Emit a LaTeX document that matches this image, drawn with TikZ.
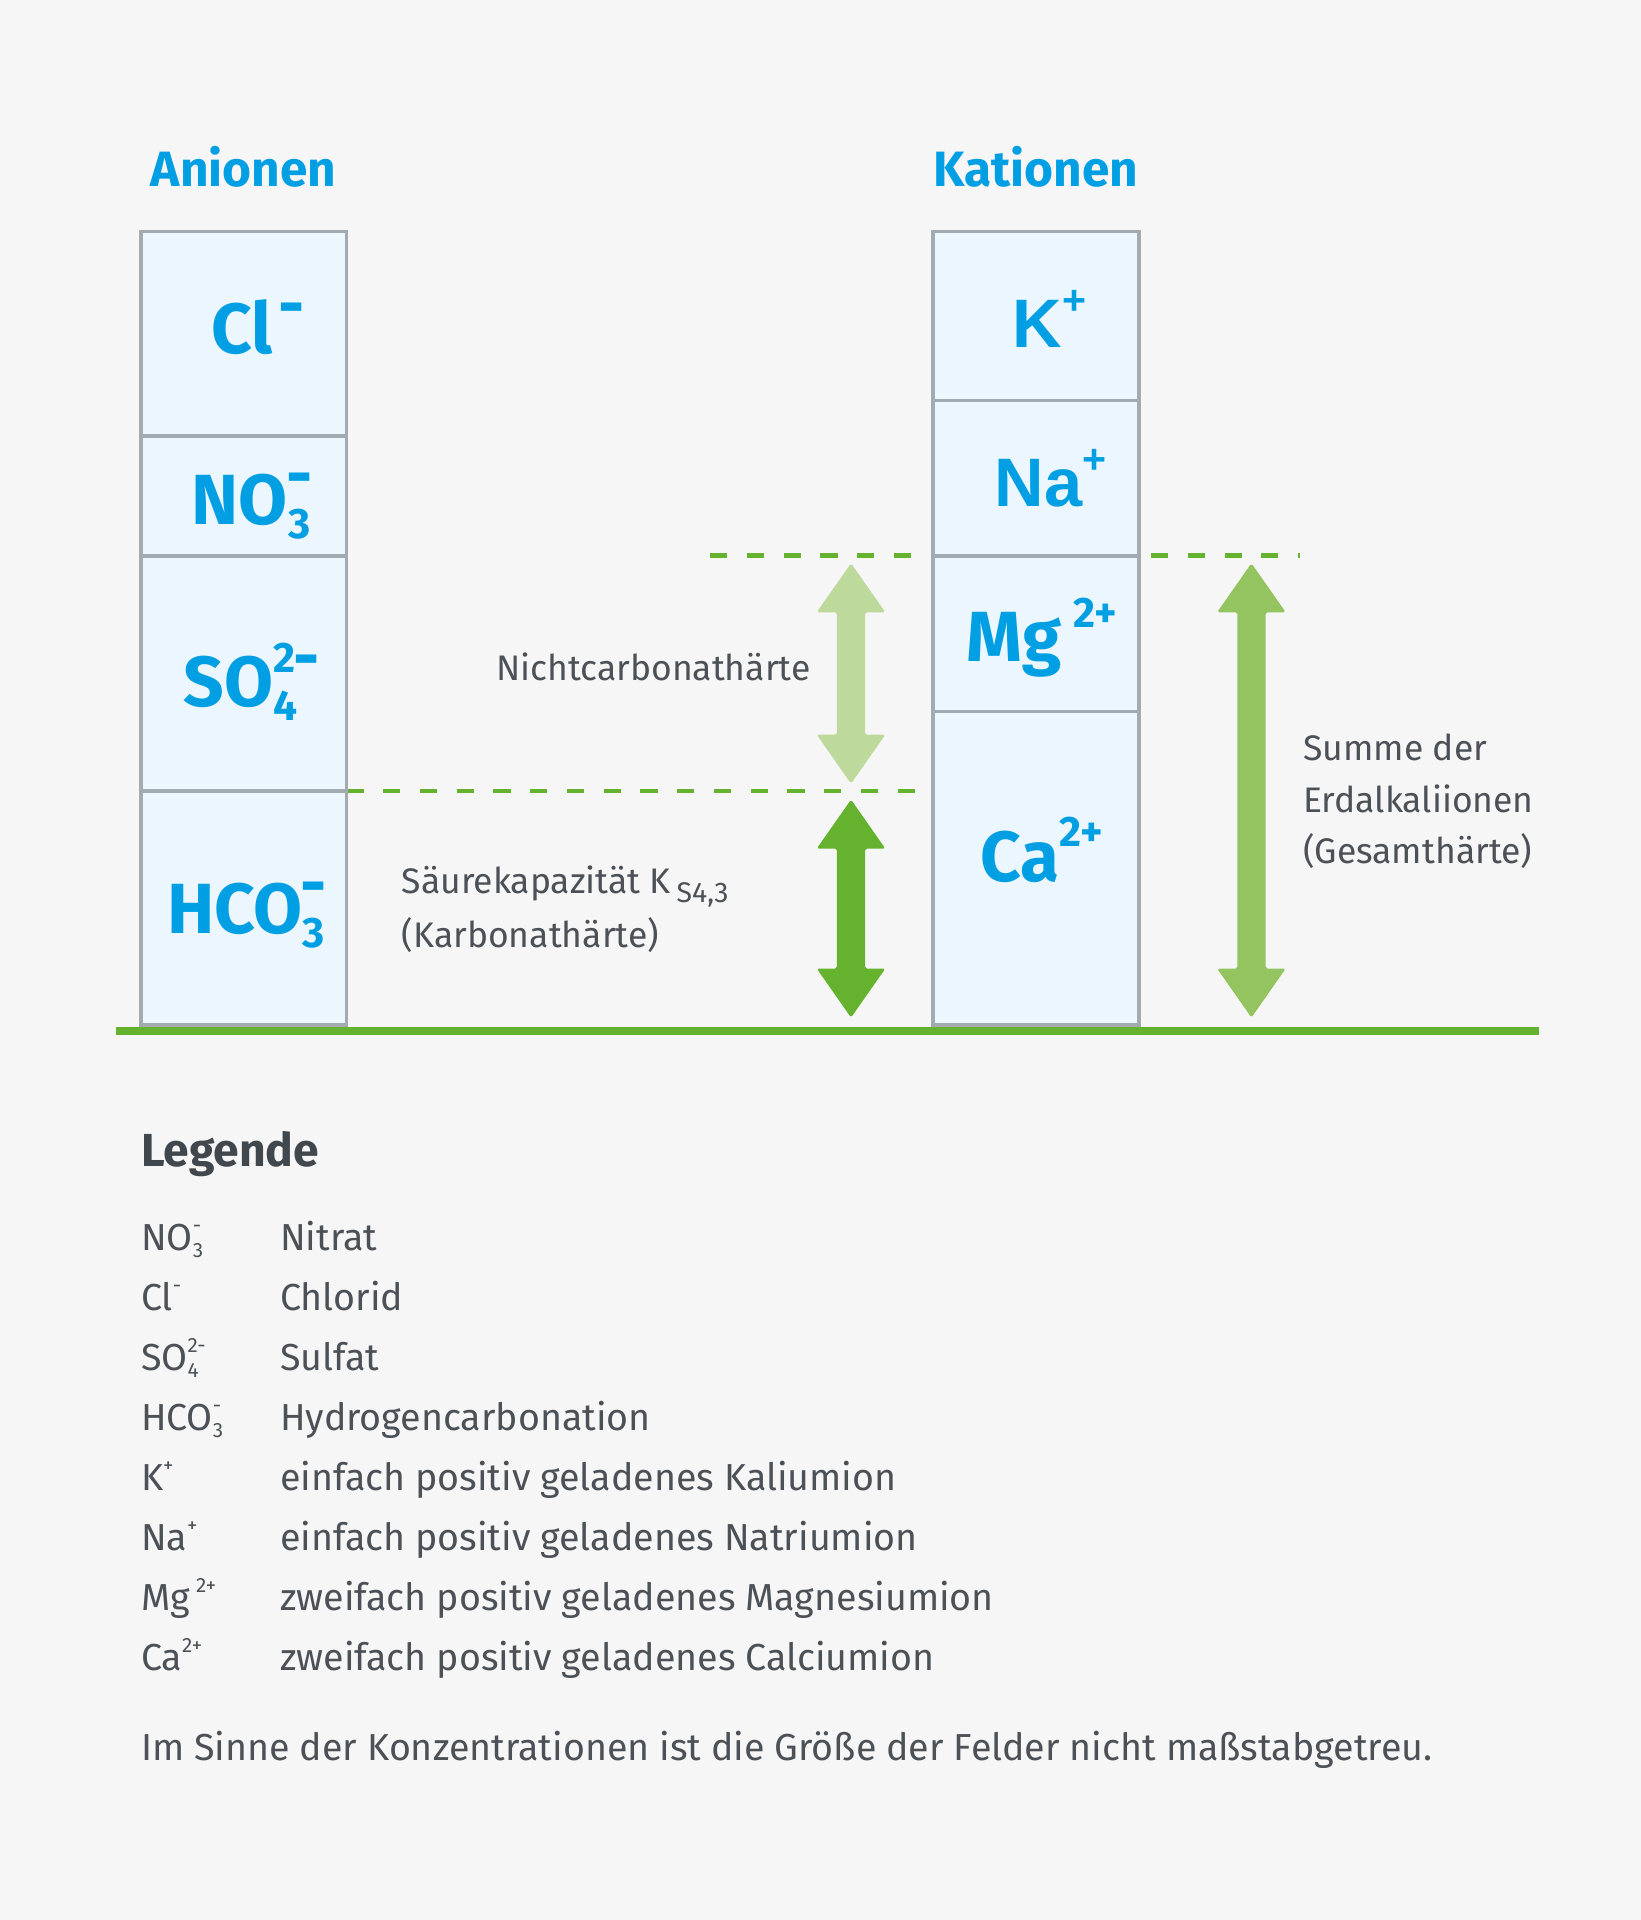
\documentclass[tikz,border=0pt]{standalone}
\usepackage{fontspec}
\setmainfont{Fira Sans}
\newfontfamily\arialfont{Liberation Sans}
\usepackage{graphicx}
\usetikzlibrary{positioning,calc}

\definecolor{bgcol}{HTML}{F6F6F6}
\definecolor{cellfill}{HTML}{EBF6FE}
\definecolor{cellline}{HTML}{A2AAB2}
\definecolor{ionblue}{HTML}{009FE3}
\definecolor{txtgray}{HTML}{4B5157}
\definecolor{leggray}{HTML}{40474D}
\definecolor{dgreen}{HTML}{64B22E}
\definecolor{lgreen}{HTML}{BDD99C}
\definecolor{mgreen}{HTML}{93C460}

% ion with stacked sub- and superscript
\newcommand{\chem}[3]{#1\rlap{\raisebox{-0.18em}{\scalebox{0.55}{#2}}}\raisebox{0.5em}{\scalebox{0.55}{#3}}}
% same, larger indices for the boxes
\newcommand{\chembig}[3]{#1\rlap{\raisebox{-0.2em}{\scalebox{0.6}{#2}}}\raisebox{0.48em}{\scalebox{0.6}{#3}}}
\newcommand{\mns}{\raisebox{-0.2em}{\scalebox{1}[1.6]{–}}}

\begin{document}
\begin{tikzpicture}[x=1pt,y=-1pt,
    cell/.style={draw=cellline,fill=cellfill,line width=3pt,minimum width=168pt,inner sep=0pt,outer sep=0pt},
    ion/.style={text=ionblue,font=\fontsize{58}{58}\selectfont\bfseries,inner sep=0pt,anchor=base},
    ionb/.style={ion,font=\fontsize{56}{56}\selectfont\arialfont\bfseries},
    head/.style={text=ionblue,font=\fontsize{40.5}{40.5}\selectfont\bfseries,inner sep=0pt,anchor=base},
    lbl/.style={text=txtgray,font=\fontsize{29}{29}\selectfont,inner sep=0pt,anchor=base west},
    leg/.style={lbl,font=\fontsize{30.7}{30.7}\selectfont},
    hdash/.style={draw=dgreen,line width=4pt,dash pattern=on 14pt off 16pt},
  ]
  \useasboundingbox (0,0) rectangle (1340,1568);
  \fill[bgcol] (0,0) rectangle (1340,1568);

  % titles
  \node[head] (anh) at (199,152) {Anionen};
  \node[head] (kah) at (846,152) {Kationen};

  % dashed limits (behind the boxes)
  \draw[hdash] (580,454) -- (1062,454);
  \draw[hdash] (283,646) -- (762,646);

  % anion column
  \node[cell,minimum height=167pt,anchor=north west] (cl) at (115,189) {};
  \node[cell,minimum height=98pt,below=0pt of cl] (no) {};
  \node[cell,minimum height=192pt,below=0pt of no] (so) {};
  \node[cell,minimum height=191pt,below=0pt of so] (hco) {};

  % cation column
  \node[cell,minimum height=138pt,anchor=north west] (k) at (762,189) {};
  \node[cell,minimum height=127pt,below=0pt of k] (na) {};
  \node[cell,minimum height=127pt,below=0pt of na] (mg) {};
  \node[cell,minimum height=256pt,below=0pt of mg] (ca) {};

  \node[ion] (cl-t) at ([xshift=11pt,yshift=-16.5pt]cl.center) {\chembig{Cl\hspace{0.12em}}{}{\mns}};
  \node[ion] (no-t) at ([xshift=6pt,yshift=-23pt]no.center) {\chembig{NO}{3}{\mns}};
  \node[ion] (so-t) at ([xshift=5.5pt,yshift=-27pt]so.center) {\chembig{SO}{4}{2\mns}};
  \node[ion] (hco-t) at ([xshift=2pt,yshift=-20.5pt]hco.center) {\chembig{HCO}{3}{\mns}};
  \node[ionb] (k-t) at ([xshift=11pt,yshift=-26pt]k.center) {\chembig{K}{}{+}};
  \node[ionb] (na-t) at ([xshift=12pt,yshift=-23pt]na.center) {\chembig{Na}{}{+}};
  \node[ion] (mg-t) at ([xshift=5pt,yshift=-22.5pt]mg.center) {\chembig{Mg\,}{}{2+}};
  \node[ion] (ca-t) at ([xshift=5pt,yshift=-10.5pt]ca.center) {\chembig{Ca}{}{2+}};

  % base line
  \draw[dgreen,line width=6.5pt] (95,842) -- (1257,842);

  % double arrows
  \coordinate (nct) at (695,460);  \coordinate (ncb) at (695,640);
  \coordinate (kht) at (695,653);  \coordinate (khb) at (695,831);
  \coordinate (ght) at (1022,460); \coordinate (ghb) at (1022,831);
  \foreach \top/\bot/\col in {nct/ncb/lgreen,kht/khb/dgreen,ght/ghb/mgreen}
    \fill[\col,rounded corners=1.5pt] (\top) -- ++(28,40) -- ++(-16.5,0) -- ($(\bot)+(11.5,-40)$)
      -- ++(16.5,0) -- (\bot) -- ++(-28,-40) -- ++(16.5,0) -- ($(\top)+(-11.5,40)$) -- ++(-16.5,0) -- cycle;

  % arrow labels
  \node[lbl] (nch) at (405,555.5) {Nichtcarbonathärte};
  \node[lbl] (ska) at (328,729.5) {Säurekapazität K\,\raisebox{-0.25em}{\scalebox{0.8}{S4,3}}};
  \node[lbl] (kbh) at (328,773.5) {(Karbonathärte)};
  \node[lbl] (sum1) at (1064,621) {Summe der};
  \node[lbl] (sum2) at (1064,663.5) {Erdalkaliionen};
  \node[lbl] (sum3) at (1064,705) {(Gesamthärte)};

  % legend
  \node[lbl,text=leggray,font=\fontsize{37.8}{37.8}\selectfont\bfseries] (leg) at (115,952.7) {Legende};
  \foreach \sym/\txt [count=\i from 0] in {
      {\chem{NO}{3}{-}}/Nitrat,
      {\chem{Cl}{}{-}}/Chlorid,
      {\chem{SO}{4}{2-}}/Sulfat,
      {\chem{HCO}{3}{-}}/Hydrogencarbonation,
      {\chem{K}{}{+}}/einfach positiv geladenes Kaliumion,
      {\chem{Na}{}{+}}/einfach positiv geladenes Natriumion,
      {\chem{Mg\,}{}{2+}}/zweifach positiv geladenes Magnesiumion,
      {\chem{Ca}{}{2+}}/zweifach positiv geladenes Calciumion}
  {
    \node[leg] (sym\i) at (115,1021.5+49*\i) {\sym};
    \node[leg] (txt\i) at (228.6,1021.5+49*\i) {\txt};
  }
  \node[leg] (note) at (115,1438) {Im Sinne der Konzentrationen ist die Größe der Felder nicht maßstabgetreu.};
\end{tikzpicture}
\end{document}
